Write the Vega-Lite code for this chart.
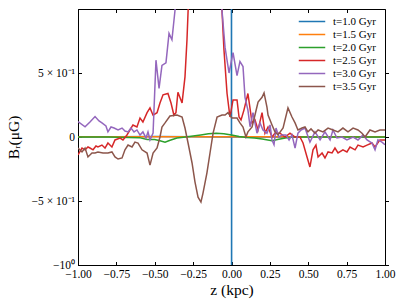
{
  "$schema": "https://vega.github.io/schema/vega-lite/v6.json",
  "width": 307,
  "height": 256,
  "autosize": {"type": "none"},
  "padding": {"left": 78, "top": 9, "right": 22, "bottom": 40},
  "config": {
    "view": {"stroke": "black", "strokeWidth": 1},
    "font": "Liberation Serif",
    "axis": {"grid": false, "domainColor": "black", "tickColor": "black", "labelColor": "black", "titleColor": "black", "labelFont": "Liberation Serif", "titleFont": "Liberation Serif", "titleFontWeight": "normal"}
  },
  "data": {"values": [
    {"t":"t=1.0 Gyr","z":-1,"B":0},
    {"t":"t=1.0 Gyr","z":-0.5,"B":0.003},
    {"t":"t=1.0 Gyr","z":-0.0005,"B":0},
    {"t":"t=1.0 Gyr","z":0,"B":50},
    {"t":"t=1.0 Gyr","z":0.0005,"B":-50},
    {"t":"t=1.0 Gyr","z":0.001,"B":0},
    {"t":"t=1.0 Gyr","z":0.5,"B":0},
    {"t":"t=1.0 Gyr","z":1,"B":0},

    {"t":"t=1.5 Gyr","z":-1,"B":0.002},
    {"t":"t=1.5 Gyr","z":-0.5,"B":0.002},
    {"t":"t=1.5 Gyr","z":0,"B":0.002},
    {"t":"t=1.5 Gyr","z":0.5,"B":0.002},
    {"t":"t=1.5 Gyr","z":1,"B":0.002},

    {"t":"t=2.0 Gyr","z":-1,"B":0},
    {"t":"t=2.0 Gyr","z":-0.8,"B":0},
    {"t":"t=2.0 Gyr","z":-0.6,"B":-0.005},
    {"t":"t=2.0 Gyr","z":-0.55,"B":-0.02},
    {"t":"t=2.0 Gyr","z":-0.5,"B":-0.02},
    {"t":"t=2.0 Gyr","z":-0.466,"B":-0.03},
    {"t":"t=2.0 Gyr","z":-0.433,"B":-0.04},
    {"t":"t=2.0 Gyr","z":-0.4,"B":-0.025},
    {"t":"t=2.0 Gyr","z":-0.355,"B":-0.008},
    {"t":"t=2.0 Gyr","z":-0.3,"B":0},
    {"t":"t=2.0 Gyr","z":-0.25,"B":0.008},
    {"t":"t=2.0 Gyr","z":-0.2,"B":0.016},
    {"t":"t=2.0 Gyr","z":-0.15,"B":0.025},
    {"t":"t=2.0 Gyr","z":-0.1,"B":0.03},
    {"t":"t=2.0 Gyr","z":-0.05,"B":0.025},
    {"t":"t=2.0 Gyr","z":0,"B":0.016},
    {"t":"t=2.0 Gyr","z":0.05,"B":0.004},
    {"t":"t=2.0 Gyr","z":0.1,"B":-0.004},
    {"t":"t=2.0 Gyr","z":0.15,"B":-0.008},
    {"t":"t=2.0 Gyr","z":0.2,"B":-0.016},
    {"t":"t=2.0 Gyr","z":0.264,"B":-0.03},
    {"t":"t=2.0 Gyr","z":0.3,"B":-0.02},
    {"t":"t=2.0 Gyr","z":0.35,"B":-0.008},
    {"t":"t=2.0 Gyr","z":0.4,"B":0},
    {"t":"t=2.0 Gyr","z":0.5,"B":0},
    {"t":"t=2.0 Gyr","z":1,"B":0},

    {"t":"t=2.5 Gyr","z":-1,"B":-0.14},
    {"t":"t=2.5 Gyr","z":-0.974,"B":-0.086},
    {"t":"t=2.5 Gyr","z":-0.954,"B":-0.1},
    {"t":"t=2.5 Gyr","z":-0.935,"B":-0.078},
    {"t":"t=2.5 Gyr","z":-0.922,"B":-0.086},
    {"t":"t=2.5 Gyr","z":-0.902,"B":-0.1},
    {"t":"t=2.5 Gyr","z":-0.883,"B":-0.07},
    {"t":"t=2.5 Gyr","z":-0.87,"B":-0.078},
    {"t":"t=2.5 Gyr","z":-0.844,"B":-0.063},
    {"t":"t=2.5 Gyr","z":-0.824,"B":-0.086},
    {"t":"t=2.5 Gyr","z":-0.805,"B":-0.047},
    {"t":"t=2.5 Gyr","z":-0.779,"B":-0.078},
    {"t":"t=2.5 Gyr","z":-0.759,"B":-0.023},
    {"t":"t=2.5 Gyr","z":-0.726,"B":-0.008},
    {"t":"t=2.5 Gyr","z":-0.707,"B":-0.023},
    {"t":"t=2.5 Gyr","z":-0.681,"B":0.016},
    {"t":"t=2.5 Gyr","z":-0.661,"B":0.055},
    {"t":"t=2.5 Gyr","z":-0.642,"B":0.094},
    {"t":"t=2.5 Gyr","z":-0.616,"B":0.078},
    {"t":"t=2.5 Gyr","z":-0.596,"B":0.148},
    {"t":"t=2.5 Gyr","z":-0.577,"B":0.117},
    {"t":"t=2.5 Gyr","z":-0.55,"B":0.19},
    {"t":"t=2.5 Gyr","z":-0.531,"B":0.227},
    {"t":"t=2.5 Gyr","z":-0.511,"B":0.17},
    {"t":"t=2.5 Gyr","z":-0.485,"B":0.19},
    {"t":"t=2.5 Gyr","z":-0.466,"B":0.266},
    {"t":"t=2.5 Gyr","z":-0.446,"B":0.33},
    {"t":"t=2.5 Gyr","z":-0.414,"B":0.34},
    {"t":"t=2.5 Gyr","z":-0.394,"B":0.266},
    {"t":"t=2.5 Gyr","z":-0.375,"B":0.17},
    {"t":"t=2.5 Gyr","z":-0.362,"B":0.19},
    {"t":"t=2.5 Gyr","z":-0.349,"B":0.35},
    {"t":"t=2.5 Gyr","z":-0.322,"B":0.266},
    {"t":"t=2.5 Gyr","z":-0.303,"B":0.47},
    {"t":"t=2.5 Gyr","z":-0.29,"B":0.76},
    {"t":"t=2.5 Gyr","z":-0.27,"B":1.38},
    {"t":"t=2.5 Gyr","z":-0.238,"B":2.2},
    {"t":"t=2.5 Gyr","z":-0.173,"B":3.0},
    {"t":"t=2.5 Gyr","z":-0.12,"B":2.2},
    {"t":"t=2.5 Gyr","z":-0.081,"B":1.38},
    {"t":"t=2.5 Gyr","z":-0.062,"B":0.99},
    {"t":"t=2.5 Gyr","z":-0.049,"B":0.68},
    {"t":"t=2.5 Gyr","z":-0.029,"B":0.34},
    {"t":"t=2.5 Gyr","z":-0.01,"B":0.156},
    {"t":"t=2.5 Gyr","z":0.01,"B":0.29},
    {"t":"t=2.5 Gyr","z":0.036,"B":0.29},
    {"t":"t=2.5 Gyr","z":0.049,"B":0.156},
    {"t":"t=2.5 Gyr","z":0.062,"B":0.133},
    {"t":"t=2.5 Gyr","z":0.081,"B":0.21},
    {"t":"t=2.5 Gyr","z":0.107,"B":0.34},
    {"t":"t=2.5 Gyr","z":0.134,"B":0.11},
    {"t":"t=2.5 Gyr","z":0.153,"B":0.133},
    {"t":"t=2.5 Gyr","z":0.173,"B":0.055},
    {"t":"t=2.5 Gyr","z":0.199,"B":0.19},
    {"t":"t=2.5 Gyr","z":0.218,"B":0.03},
    {"t":"t=2.5 Gyr","z":0.238,"B":0.078},
    {"t":"t=2.5 Gyr","z":0.264,"B":0},
    {"t":"t=2.5 Gyr","z":0.283,"B":0.03},
    {"t":"t=2.5 Gyr","z":0.316,"B":0.03},
    {"t":"t=2.5 Gyr","z":0.349,"B":0},
    {"t":"t=2.5 Gyr","z":0.381,"B":0.03},
    {"t":"t=2.5 Gyr","z":0.414,"B":0},
    {"t":"t=2.5 Gyr","z":0.446,"B":0},
    {"t":"t=2.5 Gyr","z":0.466,"B":-0.047},
    {"t":"t=2.5 Gyr","z":0.492,"B":-0.156},
    {"t":"t=2.5 Gyr","z":0.511,"B":-0.234},
    {"t":"t=2.5 Gyr","z":0.531,"B":-0.1},
    {"t":"t=2.5 Gyr","z":0.55,"B":-0.063},
    {"t":"t=2.5 Gyr","z":0.564,"B":-0.156},
    {"t":"t=2.5 Gyr","z":0.59,"B":-0.125},
    {"t":"t=2.5 Gyr","z":0.609,"B":-0.164},
    {"t":"t=2.5 Gyr","z":0.629,"B":-0.117},
    {"t":"t=2.5 Gyr","z":0.655,"B":-0.125},
    {"t":"t=2.5 Gyr","z":0.674,"B":-0.086},
    {"t":"t=2.5 Gyr","z":0.694,"B":-0.125},
    {"t":"t=2.5 Gyr","z":0.726,"B":-0.1},
    {"t":"t=2.5 Gyr","z":0.752,"B":-0.117},
    {"t":"t=2.5 Gyr","z":0.772,"B":-0.078},
    {"t":"t=2.5 Gyr","z":0.805,"B":-0.1},
    {"t":"t=2.5 Gyr","z":0.824,"B":-0.063},
    {"t":"t=2.5 Gyr","z":0.857,"B":-0.078},
    {"t":"t=2.5 Gyr","z":0.883,"B":-0.063},
    {"t":"t=2.5 Gyr","z":0.915,"B":-0.047},
    {"t":"t=2.5 Gyr","z":0.935,"B":-0.078},
    {"t":"t=2.5 Gyr","z":0.967,"B":-0.023},
    {"t":"t=2.5 Gyr","z":1,"B":-0.023},

    {"t":"t=3.0 Gyr","z":-1,"B":0.12},
    {"t":"t=3.0 Gyr","z":-0.954,"B":0.08},
    {"t":"t=3.0 Gyr","z":-0.922,"B":0.117},
    {"t":"t=3.0 Gyr","z":-0.889,"B":0.16},
    {"t":"t=3.0 Gyr","z":-0.863,"B":0.125},
    {"t":"t=3.0 Gyr","z":-0.844,"B":0.11},
    {"t":"t=3.0 Gyr","z":-0.818,"B":0.086},
    {"t":"t=3.0 Gyr","z":-0.805,"B":0.04},
    {"t":"t=3.0 Gyr","z":-0.785,"B":0.078},
    {"t":"t=3.0 Gyr","z":-0.765,"B":0.07},
    {"t":"t=3.0 Gyr","z":-0.739,"B":0.055},
    {"t":"t=3.0 Gyr","z":-0.713,"B":0.07},
    {"t":"t=3.0 Gyr","z":-0.694,"B":0.047},
    {"t":"t=3.0 Gyr","z":-0.674,"B":0.04},
    {"t":"t=3.0 Gyr","z":-0.655,"B":0.07},
    {"t":"t=3.0 Gyr","z":-0.635,"B":0.04},
    {"t":"t=3.0 Gyr","z":-0.616,"B":0.055},
    {"t":"t=3.0 Gyr","z":-0.596,"B":0.015},
    {"t":"t=3.0 Gyr","z":-0.577,"B":0.04},
    {"t":"t=3.0 Gyr","z":-0.557,"B":-0.008},
    {"t":"t=3.0 Gyr","z":-0.544,"B":0.04},
    {"t":"t=3.0 Gyr","z":-0.531,"B":-0.023},
    {"t":"t=3.0 Gyr","z":-0.511,"B":0.03},
    {"t":"t=3.0 Gyr","z":-0.492,"B":0.6},
    {"t":"t=3.0 Gyr","z":-0.472,"B":0.38},
    {"t":"t=3.0 Gyr","z":-0.453,"B":0.56},
    {"t":"t=3.0 Gyr","z":-0.427,"B":0.58},
    {"t":"t=3.0 Gyr","z":-0.407,"B":0.81},
    {"t":"t=3.0 Gyr","z":-0.388,"B":0.76},
    {"t":"t=3.0 Gyr","z":-0.368,"B":0.99},
    {"t":"t=3.0 Gyr","z":-0.342,"B":1.54},
    {"t":"t=3.0 Gyr","z":-0.309,"B":2.2},
    {"t":"t=3.0 Gyr","z":-0.27,"B":2.6},
    {"t":"t=3.0 Gyr","z":-0.205,"B":3.0},
    {"t":"t=3.0 Gyr","z":-0.14,"B":2.6},
    {"t":"t=3.0 Gyr","z":-0.094,"B":1.85},
    {"t":"t=3.0 Gyr","z":-0.062,"B":0.99},
    {"t":"t=3.0 Gyr","z":-0.042,"B":0.7},
    {"t":"t=3.0 Gyr","z":-0.016,"B":0.5},
    {"t":"t=3.0 Gyr","z":0.01,"B":0.66},
    {"t":"t=3.0 Gyr","z":0.036,"B":0.48},
    {"t":"t=3.0 Gyr","z":0.055,"B":0.59},
    {"t":"t=3.0 Gyr","z":0.075,"B":0.55},
    {"t":"t=3.0 Gyr","z":0.088,"B":0.31},
    {"t":"t=3.0 Gyr","z":0.107,"B":0.21},
    {"t":"t=3.0 Gyr","z":0.121,"B":0.08},
    {"t":"t=3.0 Gyr","z":0.14,"B":0.19},
    {"t":"t=3.0 Gyr","z":0.166,"B":0.03},
    {"t":"t=3.0 Gyr","z":0.186,"B":0.11},
    {"t":"t=3.0 Gyr","z":0.205,"B":0.055},
    {"t":"t=3.0 Gyr","z":0.231,"B":0.03},
    {"t":"t=3.0 Gyr","z":0.251,"B":0.094},
    {"t":"t=3.0 Gyr","z":0.264,"B":-0.023},
    {"t":"t=3.0 Gyr","z":0.277,"B":-0.06},
    {"t":"t=3.0 Gyr","z":0.29,"B":0.07},
    {"t":"t=3.0 Gyr","z":0.309,"B":0},
    {"t":"t=3.0 Gyr","z":0.329,"B":0.016},
    {"t":"t=3.0 Gyr","z":0.355,"B":0.016},
    {"t":"t=3.0 Gyr","z":0.375,"B":-0.023},
    {"t":"t=3.0 Gyr","z":0.394,"B":0.016},
    {"t":"t=3.0 Gyr","z":0.414,"B":-0.086},
    {"t":"t=3.0 Gyr","z":0.433,"B":0.03},
    {"t":"t=3.0 Gyr","z":0.453,"B":0.055},
    {"t":"t=3.0 Gyr","z":0.479,"B":0.07},
    {"t":"t=3.0 Gyr","z":0.511,"B":-0.04},
    {"t":"t=3.0 Gyr","z":0.544,"B":0.04},
    {"t":"t=3.0 Gyr","z":0.577,"B":-0.023},
    {"t":"t=3.0 Gyr","z":0.609,"B":0.04},
    {"t":"t=3.0 Gyr","z":0.642,"B":-0.023},
    {"t":"t=3.0 Gyr","z":0.661,"B":0.055},
    {"t":"t=3.0 Gyr","z":0.687,"B":-0.008},
    {"t":"t=3.0 Gyr","z":0.72,"B":0},
    {"t":"t=3.0 Gyr","z":0.752,"B":-0.023},
    {"t":"t=3.0 Gyr","z":0.792,"B":0},
    {"t":"t=3.0 Gyr","z":0.824,"B":-0.023},
    {"t":"t=3.0 Gyr","z":0.857,"B":0.016},
    {"t":"t=3.0 Gyr","z":0.883,"B":-0.023},
    {"t":"t=3.0 Gyr","z":0.915,"B":-0.047},
    {"t":"t=3.0 Gyr","z":0.935,"B":-0.1},
    {"t":"t=3.0 Gyr","z":0.954,"B":-0.023},
    {"t":"t=3.0 Gyr","z":0.98,"B":-0.04},
    {"t":"t=3.0 Gyr","z":1,"B":-0.06},

    {"t":"t=3.5 Gyr","z":-1,"B":-0.086},
    {"t":"t=3.5 Gyr","z":-0.974,"B":-0.117},
    {"t":"t=3.5 Gyr","z":-0.954,"B":-0.086},
    {"t":"t=3.5 Gyr","z":-0.935,"B":-0.156},
    {"t":"t=3.5 Gyr","z":-0.909,"B":-0.125},
    {"t":"t=3.5 Gyr","z":-0.889,"B":-0.125},
    {"t":"t=3.5 Gyr","z":-0.87,"B":-0.117},
    {"t":"t=3.5 Gyr","z":-0.837,"B":-0.125},
    {"t":"t=3.5 Gyr","z":-0.805,"B":-0.125},
    {"t":"t=3.5 Gyr","z":-0.779,"B":-0.117},
    {"t":"t=3.5 Gyr","z":-0.759,"B":-0.156},
    {"t":"t=3.5 Gyr","z":-0.739,"B":-0.172},
    {"t":"t=3.5 Gyr","z":-0.713,"B":-0.164},
    {"t":"t=3.5 Gyr","z":-0.694,"B":-0.1},
    {"t":"t=3.5 Gyr","z":-0.674,"B":-0.063},
    {"t":"t=3.5 Gyr","z":-0.648,"B":-0.078},
    {"t":"t=3.5 Gyr","z":-0.629,"B":-0.04},
    {"t":"t=3.5 Gyr","z":-0.609,"B":-0.047},
    {"t":"t=3.5 Gyr","z":-0.583,"B":-0.1},
    {"t":"t=3.5 Gyr","z":-0.55,"B":-0.125},
    {"t":"t=3.5 Gyr","z":-0.531,"B":-0.22},
    {"t":"t=3.5 Gyr","z":-0.511,"B":-0.125},
    {"t":"t=3.5 Gyr","z":-0.485,"B":-0.086},
    {"t":"t=3.5 Gyr","z":-0.466,"B":0},
    {"t":"t=3.5 Gyr","z":-0.453,"B":0.078},
    {"t":"t=3.5 Gyr","z":-0.433,"B":0.11},
    {"t":"t=3.5 Gyr","z":-0.401,"B":0.164},
    {"t":"t=3.5 Gyr","z":-0.355,"B":0.172},
    {"t":"t=3.5 Gyr","z":-0.322,"B":0.156},
    {"t":"t=3.5 Gyr","z":-0.303,"B":0.07},
    {"t":"t=3.5 Gyr","z":-0.283,"B":-0.047},
    {"t":"t=3.5 Gyr","z":-0.257,"B":-0.203},
    {"t":"t=3.5 Gyr","z":-0.238,"B":-0.35},
    {"t":"t=3.5 Gyr","z":-0.218,"B":-0.47},
    {"t":"t=3.5 Gyr","z":-0.199,"B":-0.508},
    {"t":"t=3.5 Gyr","z":-0.186,"B":-0.44},
    {"t":"t=3.5 Gyr","z":-0.16,"B":-0.28},
    {"t":"t=3.5 Gyr","z":-0.14,"B":-0.125},
    {"t":"t=3.5 Gyr","z":-0.12,"B":0.03},
    {"t":"t=3.5 Gyr","z":-0.094,"B":0.156},
    {"t":"t=3.5 Gyr","z":-0.062,"B":0.172},
    {"t":"t=3.5 Gyr","z":-0.042,"B":0.172},
    {"t":"t=3.5 Gyr","z":-0.023,"B":0.19},
    {"t":"t=3.5 Gyr","z":0.003,"B":0.148},
    {"t":"t=3.5 Gyr","z":0.036,"B":0.148},
    {"t":"t=3.5 Gyr","z":0.055,"B":0.11},
    {"t":"t=3.5 Gyr","z":0.075,"B":0.078},
    {"t":"t=3.5 Gyr","z":0.094,"B":0},
    {"t":"t=3.5 Gyr","z":0.107,"B":0.04},
    {"t":"t=3.5 Gyr","z":0.134,"B":0.078},
    {"t":"t=3.5 Gyr","z":0.153,"B":0.172},
    {"t":"t=3.5 Gyr","z":0.173,"B":0.273},
    {"t":"t=3.5 Gyr","z":0.199,"B":0.31},
    {"t":"t=3.5 Gyr","z":0.212,"B":0.344},
    {"t":"t=3.5 Gyr","z":0.231,"B":0.234},
    {"t":"t=3.5 Gyr","z":0.238,"B":0.172},
    {"t":"t=3.5 Gyr","z":0.264,"B":0.094},
    {"t":"t=3.5 Gyr","z":0.283,"B":0.04},
    {"t":"t=3.5 Gyr","z":0.303,"B":0.016},
    {"t":"t=3.5 Gyr","z":0.336,"B":0.07},
    {"t":"t=3.5 Gyr","z":0.368,"B":0.227},
    {"t":"t=3.5 Gyr","z":0.394,"B":0.156},
    {"t":"t=3.5 Gyr","z":0.414,"B":0.11},
    {"t":"t=3.5 Gyr","z":0.433,"B":0.055},
    {"t":"t=3.5 Gyr","z":0.459,"B":0.07},
    {"t":"t=3.5 Gyr","z":0.479,"B":0.078},
    {"t":"t=3.5 Gyr","z":0.498,"B":0.04},
    {"t":"t=3.5 Gyr","z":0.518,"B":0.063},
    {"t":"t=3.5 Gyr","z":0.544,"B":0.03},
    {"t":"t=3.5 Gyr","z":0.564,"B":0.055},
    {"t":"t=3.5 Gyr","z":0.596,"B":0.04},
    {"t":"t=3.5 Gyr","z":0.629,"B":0.07},
    {"t":"t=3.5 Gyr","z":0.661,"B":0.055},
    {"t":"t=3.5 Gyr","z":0.694,"B":0.04},
    {"t":"t=3.5 Gyr","z":0.726,"B":0.07},
    {"t":"t=3.5 Gyr","z":0.759,"B":0.04},
    {"t":"t=3.5 Gyr","z":0.792,"B":0.07},
    {"t":"t=3.5 Gyr","z":0.824,"B":0.055},
    {"t":"t=3.5 Gyr","z":0.85,"B":0.03},
    {"t":"t=3.5 Gyr","z":0.87,"B":0},
    {"t":"t=3.5 Gyr","z":0.902,"B":0.055},
    {"t":"t=3.5 Gyr","z":0.935,"B":0.04},
    {"t":"t=3.5 Gyr","z":0.967,"B":0.055},
    {"t":"t=3.5 Gyr","z":1,"B":0.055}
  ]},
  "layer": [
    {
      "mark": {"type": "line", "strokeWidth": 1.5, "clip": true},
      "encoding": {
        "x": {"field": "z", "type": "quantitative",
          "scale": {"domain": [-1, 1], "nice": false, "zero": false},
          "axis": {"title": "z (kpc)", "values": [-1, -0.75, -0.5, -0.25, 0, 0.25, 0.5, 0.75, 1], "format": ".2f",
            "labelFontSize": 11.5, "labelFlush": false, "labelOverlap": false, "tickSize": -3.5, "labelPadding": 7, "titleFontSize": 15.5, "titlePadding": 2, "domain": true}},
        "y": {"field": "B", "type": "quantitative",
          "scale": {"domain": [-1, 1], "nice": false, "zero": false},
          "axis": {"title": "Bᵣ(μG)", "values": [-1, -0.5, 0, 0.5],
            "labelExpr": "datum.value == 0.5 ? '5 × 10⁻¹' : datum.value == 0 ? '0' : datum.value == -0.5 ? '−5 × 10⁻¹' : datum.value == -1 ? '−10⁰' : ''",
            "labelFontSize": 11.5, "labelFlush": false, "labelOverlap": false, "tickSize": -3.5, "labelPadding": 7, "titleFontSize": 15.5, "titlePadding": 10, "domain": true}},
        "color": {"field": "t", "type": "nominal",
          "scale": {"domain": ["t=1.0 Gyr", "t=1.5 Gyr", "t=2.0 Gyr", "t=2.5 Gyr", "t=3.0 Gyr", "t=3.5 Gyr"],
            "range": ["#1f77b4", "#ff7f0e", "#2ca02c", "#d62728", "#9467bd", "#8c564b"]},
          "legend": {"orient": "none", "legendX": 220, "legendY": 6, "title": null, "symbolType": "stroke", "symbolStrokeWidth": 1.5, "symbolSize": 700, "clipHeight": 13, "labelFont": "Liberation Serif", "labelFontSize": 11, "labelColor": "black", "rowPadding": 0, "labelOffset": 7}}
      }
    },
    {
      "mark": {"type": "point", "opacity": 0},
      "encoding": {
        "x": {"field": "z", "type": "quantitative",
          "scale": {"domain": [-1, 1], "nice": false, "zero": false},
          "axis": {"orient": "top", "title": null, "labels": false, "domain": false, "values": [-1, -0.75, -0.5, -0.25, 0, 0.25, 0.5, 0.75, 1], "tickSize": -3.5}},
        "y": {"field": "B", "type": "quantitative",
          "scale": {"domain": [-1, 1], "nice": false, "zero": false},
          "axis": {"orient": "right", "title": null, "labels": false, "domain": false, "values": [-1, -0.5, 0, 0.5], "tickSize": 3.5}}
      }
    }
  ],
  "resolve": {"axis": {"x": "independent", "y": "independent"}}
}
